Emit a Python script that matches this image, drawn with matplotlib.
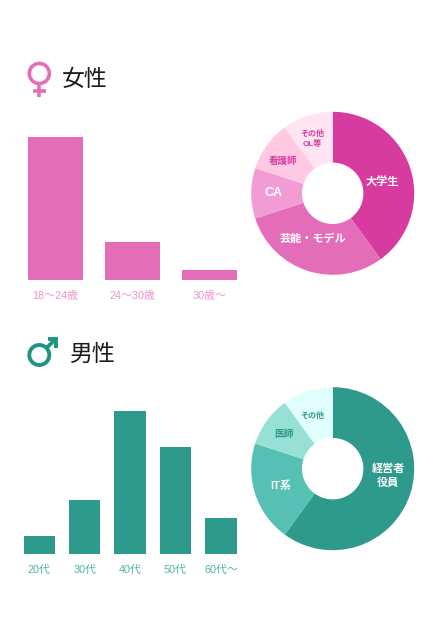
import numpy as np
import matplotlib
matplotlib.use("Agg")
import matplotlib.pyplot as plt
from matplotlib.patches import Circle

plt.rcParams['font.family'] = ['Liberation Sans', 'Noto Sans CJK JP', 'DejaVu Sans']

# bar data
female_ages = ['18〜24歳', '24〜30歳', '30歳〜']
female_age_share = [75, 20, 5]
male_ages = ['20代', '30代', '40代', '50代', '60代〜']
male_age_share = [5, 15, 40, 30, 10]

# donut data
female_jobs = ['大学生', '芸能・モデル', 'CA', '看護師', 'その他\nOL等']
female_job_share = [40, 30, 10, 10, 10]
male_jobs = ['経営者\n役員', 'IT系', '医師', 'その他']
male_job_share = [60, 20, 10, 10]

# colours
female_colors = ['#D83BA0', '#E46DB9', '#F29CD6', '#FFC9E3', '#FFE4F1']
female_text = ['white', 'white', 'white', '#D83BA0', '#D83BA0']
male_colors = ['#2E9A8B', '#55C0B3', '#96E0D5', '#E0FFFC']
male_text = ['white', 'white', '#2E9A8B', '#2E9A8B']

W, H = 430, 640
fig = plt.figure(figsize=(W / 100, H / 100), dpi=100, facecolor='white')


def px_axes(left, top, right, bottom):
    # axes placed by pixel box, y measured from the top of the image
    return fig.add_axes([left / W, 1 - bottom / H, (right - left) / W, (bottom - top) / H])


def bar_panel(box, labels, values, color, label_color, width, ymax):
    ax = px_axes(*box)
    x = range(len(values))
    ax.bar(x, values, width=width, color=color)
    ax.set_xlim(-width / 2, len(values) - 1 + width / 2)
    ax.set_ylim(0, ymax)
    ax.set_xticks(list(x))
    ax.set_xticklabels(labels, color=label_color, fontsize=7.8)
    ax.set_yticks([])
    ax.tick_params(axis='x', length=0, pad=8)
    for s in ax.spines.values():
        s.set_visible(False)
    ax.patch.set_alpha(0)
    return ax


def donut_panel(cx, cy, r, values, colors, labels, text_colors, sizes, offsets, spacing):
    ax = px_axes(cx - r, cy - r, cx + r, cy + r)
    ax.pie(values, colors=colors, startangle=90, counterclock=False, radius=1,
           wedgeprops={'width': 1 - 30.7 / r, 'linewidth': 0})
    ax.set_xlim(-1, 1)
    ax.set_ylim(-1, 1)
    # offsets are label centres relative to the hole, in pixels
    for lab, c, fs, (dx, dy), sp in zip(labels, text_colors, sizes, offsets, spacing):
        ax.text(dx / r, -dy / r, lab, color=c, fontsize=fs, fontweight='bold',
                ha='center', va='center', linespacing=sp)
    return ax


bar_panel((28, 137, 237, 280), female_ages, female_age_share, '#E46DB9', '#EE93CB', 55 / 77, 75)
bar_panel((23.5, 411, 236.7, 554), male_ages, male_age_share, '#2E9A8B', '#4FB5A7', 31.6 / 45.4, 40)

donut_panel(332.7, 193.3, 81.5, female_job_share, female_colors, female_jobs, female_text,
            [8, 8, 9, 6.8, 5.8],
            [(50, -11.5), (-19.5, 45.5), (-59.5, -0.5), (-50, -32.5), (-20.5, -54.5)],
            [1, 1, 1, 1, 1.25])
donut_panel(332.7, 468.7, 81.5, male_job_share, male_colors, male_jobs, male_text,
            [8, 8, 7, 5.8],
            [(55.5, 7), (-51.5, 17.5), (-48.5, -34.5), (-20.5, -53)],
            [1.45, 1, 1, 1])

# headings and gender marks on a full-figure overlay in pixel units
over = fig.add_axes([0, 0, 1, 1])
over.set_xlim(0, W)
over.set_ylim(H, 0)
over.axis('off')
over.text(62, 79, '女性', fontsize=16.5, color='#1a1a1a', va='center', ha='left',
          family='Noto Sans CJK JP')
over.text(69, 354, '男性', fontsize=16.5, color='#1a1a1a', va='center', ha='left',
          family='Noto Sans CJK JP')

# female mark
over.add_patch(Circle((39.3, 73.5), 10, fill=False, ec='#E46DB9', lw=2.6))
over.plot([39.3, 39.3], [84, 97], color='#E46DB9', lw=2.6, solid_capstyle='butt')
over.plot([32.7, 46], [90.5, 90.5], color='#E46DB9', lw=2.6, solid_capstyle='butt')

# male mark
over.add_patch(Circle((39.3, 355), 10, fill=False, ec='#1F9483', lw=2.8))
over.plot([46.5, 55.5], [348, 339], color='#1F9483', lw=2.8, solid_capstyle='butt')
over.plot([47.5, 55.5, 55.5], [339, 339, 347.5], color='#1F9483', lw=2.8,
          solid_capstyle='butt', solid_joinstyle='miter')

fig.savefig('out.png', dpi=100)
